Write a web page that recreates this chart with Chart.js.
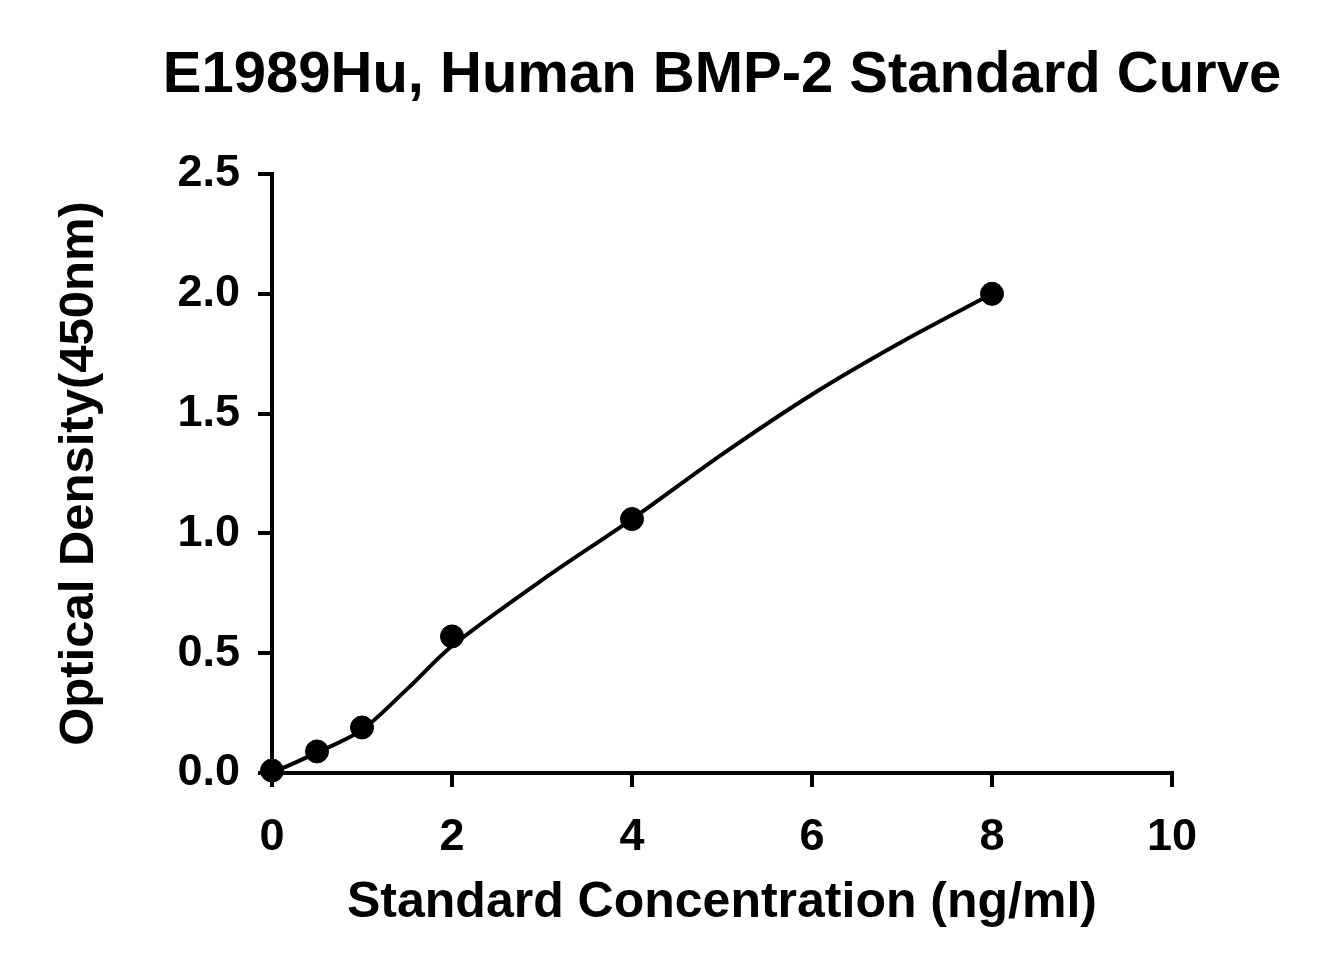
<!DOCTYPE html>
<html>
<head>
<meta charset="utf-8">
<script src="https://cdn.jsdelivr.net/npm/chart.js@4"></script>
<style>
  html, body { margin: 0; padding: 0; background: #fff; }
  #wrap { width: 1326px; height: 975px; }
</style>
</head>
<body>
<div id="wrap"><canvas id="c"></canvas></div>
<script>
// measured standards
const concentrations = [0, 0.5, 1, 2, 4, 8];
const densities = [0.01, 0.09, 0.19, 0.57, 1.06, 2.0];

// fitted curve
const curveX = [0, 0.5, 1, 1.5, 2, 3, 4, 5, 6, 7, 8];
const curveY = [0, 0.085, 0.18, 0.35, 0.53, 0.805, 1.06, 1.33, 1.58, 1.80, 2.0];

const xTicks = [0, 2, 4, 6, 8, 10];
const yTicks = [0, 0.5, 1, 1.5, 2, 2.5];

const FONT = 'Liberation Sans, Arial, sans-serif';

const titlePlugin = {
    id: 'titleText',
    afterDraw(chart) {
        const ctx = chart.ctx;
        ctx.save();
        ctx.font = 'bold 58px ' + FONT;
        ctx.fillStyle = '#000';
        ctx.textAlign = 'center';
        ctx.textBaseline = 'middle';
        ctx.fillText('E1989Hu, Human BMP-2 Standard Curve', 722, 76);
        ctx.restore();
    }
};

new Chart(document.getElementById('c'), {
    type: 'scatter',
    data: {
        datasets: [{
            type: 'line',
            data: curveX.map((x, i) => ({ x: x, y: curveY[i] })),
            borderColor: '#000',
            borderWidth: 4,
            pointRadius: 0,
            tension: 0.3,
            fill: false,
            clip: false
        }, {
            data: concentrations.map((x, i) => ({ x: x, y: densities[i] })),
            backgroundColor: '#000',
            borderColor: '#000',
            pointRadius: 11.5,
            clip: false
        }]
    },
    options: {
        responsive: true,
        maintainAspectRatio: false,
        animation: false,
        layout: { padding: { top: 174, right: 154, left: 0, bottom: 0 } },
        plugins: { legend: { display: false }, tooltip: { enabled: false } },
        scales: {
            x: {
                type: 'linear',
                min: 0, max: 10,
                afterFit: s => { s.height = 202; },
                afterBuildTicks: s => { s.ticks = xTicks.map(v => ({ value: v })); },
                border: { color: '#000', width: 4 },
                grid: { drawOnChartArea: false, color: '#000', lineWidth: 4, tickLength: 14 },
                ticks: { color: '#000', font: { family: FONT, size: 45, weight: 'bold' }, padding: 24 },
                title: { display: true, text: 'Standard Concentration (ng/ml)', color: '#000',
                         font: { family: FONT, size: 50, weight: 'bold' }, padding: { top: 0, bottom: 42 } }
            },
            y: {
                min: 0, max: 2.5,
                afterFit: s => { s.width = 272; },
                afterBuildTicks: s => { s.ticks = yTicks.map(v => ({ value: v })); },
                border: { color: '#000', width: 4 },
                grid: { drawOnChartArea: false, color: '#000', lineWidth: 4, tickLength: 14 },
                ticks: { color: '#000', font: { family: FONT, size: 45, weight: 'bold' }, padding: 18,
                         callback: v => v.toFixed(1) },
                title: { display: true, text: 'Optical Density(450nm)', color: '#000',
                         font: { family: FONT, size: 49, weight: 'bold' }, padding: { top: 50, bottom: 0 } }
            }
        }
    },
    plugins: [titlePlugin]
});
</script>
</body>
</html>
